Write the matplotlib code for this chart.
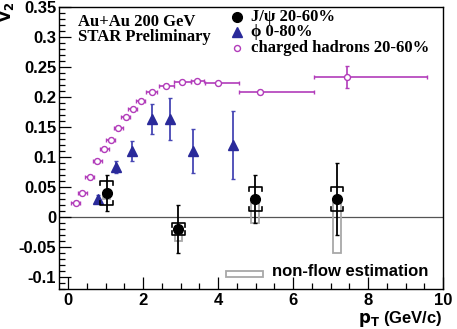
import matplotlib
matplotlib.use("Agg")
import matplotlib.pyplot as plt
from matplotlib.ticker import MultipleLocator
from matplotlib.patches import Rectangle

# ---------------- data ----------------
ch_x = [0.21, 0.38, 0.58, 0.78, 0.96, 1.14, 1.34, 1.54, 1.73, 1.94, 2.23, 2.62, 3.03, 3.43, 3.99, 5.12, 7.45]
ch_v2 = [0.024, 0.040, 0.066, 0.093, 0.113, 0.129, 0.149, 0.166, 0.180, 0.193, 0.208, 0.219, 0.2255, 0.2267, 0.2228, 0.2083, 0.2333]
ch_xlo = [0.12] * 10 + [0.15, 0.2, 0.2, 0.15, 0.33, 0.57, 0.9]
ch_xhi = [0.12] * 10 + [0.15, 0.2, 0.25, 0.2, 0.58, 1.44, 2.11]
ch_yerr = [0.002] * 15 + [0.004, 0.019]

phi_x = [0.81, 1.27, 1.70, 2.23, 2.73, 3.34, 4.40]
phi_v2 = [0.030, 0.084, 0.110, 0.163, 0.163, 0.110, 0.120]
phi_err = [0.006, 0.010, 0.016, 0.025, 0.035, 0.036, 0.056]

jpsi_x = [1.03, 2.94, 4.99, 7.17]
jpsi_v2 = [0.040, -0.020, 0.030, 0.030]
jpsi_stat = [0.030, 0.040, 0.040, 0.060]
jpsi_sys = [0.020, 0.010, 0.020, 0.020]
nonflow_low = [0.030, -0.040, -0.010, -0.060]

legend_labels = ["J/\u03c8 20-60%", "\u03d5 0-80%", "charged hadrons 20-60%"]
x_ticks = [0, 2, 4, 6, 8, 10]
y_ticks = [-0.1, -0.05, 0, 0.05, 0.1, 0.15, 0.2, 0.25, 0.3, 0.35]

# ---------------- style ----------------
W, H = 457, 329
fig = plt.figure(figsize=(W / 100, H / 100), dpi=100)
ax = fig.add_axes([59 / W, 1 - 289 / H, (443 - 59) / W, (289 - 7) / H])
ax.set_xlim(-0.24, 10)
ax.set_ylim(-0.12, 0.35)

purple = "#b23cba"
blue = "#2a2a9a"
blue_bar = "#4646b4"
grey = "#a8a8a8"

sans = ["Liberation Sans", "DejaVu Sans"]
serif = ["Liberation Serif", "DejaVu Serif"]

ax.axhline(0, color="#555555", lw=0.9, zorder=1)

# non-flow boxes
for x, v, lo in zip(jpsi_x, jpsi_v2, nonflow_low):
    ax.add_patch(Rectangle((x - 0.1, lo), 0.2, v - lo, fill=False, ec=grey, lw=1.3, zorder=2))

# charged hadrons
ax.errorbar(ch_x, ch_v2, xerr=[ch_xlo, ch_xhi], yerr=ch_yerr, fmt="o", ms=4.3,
            mfc="white", mec=purple, mew=1.0, ecolor=purple, elinewidth=1.2,
            capsize=1.2, capthick=1.0, zorder=3)

# phi
ax.errorbar(phi_x, phi_v2, yerr=phi_err, fmt="^", ms=7.5, color=blue, mec=blue,
            ecolor=blue_bar, elinewidth=1.3, capsize=1.2, capthick=1.0, zorder=4)

# J/psi systematic brackets
bw, bh = 0.17, 0.0065
for x, v, s in zip(jpsi_x, jpsi_v2, jpsi_sys):
    top, bot = v + s, v - s
    ax.plot([x - bw, x - bw, x + bw, x + bw], [top - bh, top, top, top - bh], color="black", lw=1.2, zorder=5)
    ax.plot([x - bw, x - bw, x + bw, x + bw], [bot + bh, bot, bot, bot + bh], color="black", lw=1.2, zorder=5)

# J/psi
ax.errorbar(jpsi_x, jpsi_v2, yerr=jpsi_stat, fmt="o", ms=7, color="black",
            ecolor="black", elinewidth=1.3, capsize=1.2, capthick=1.0, zorder=6)

# axes style
for sp in ax.spines.values():
    sp.set_linewidth(1.0)
ax.xaxis.set_minor_locator(MultipleLocator(0.5))
ax.yaxis.set_minor_locator(MultipleLocator(0.01))
ax.tick_params(which="both", direction="in", top=False, right=False)
ax.tick_params(which="major", length=8.5, width=0.9)
ax.tick_params(which="minor", length=4.2, width=0.9)
ax.set_xticks(x_ticks)
ax.set_yticks(y_ticks)
ax.set_xticklabels([str(t) for t in x_ticks])
ax.set_yticklabels([("%g" % t) for t in y_ticks])
for lab in ax.get_xticklabels() + ax.get_yticklabels():
    lab.set_fontfamily(sans)
    lab.set_fontweight("bold")
    lab.set_fontsize(12)
ax.tick_params(axis="x", pad=3)
ax.tick_params(axis="y", pad=2)

# axis titles
fig.text(443 / W, 1 - 319 / H, r"$\mathbf{p_{T}}$ (GeV/c)", ha="right", va="center",
         fontsize=12, fontweight="bold", family=sans)
fig.text(8 / W, 1 - 12 / H, r"$\mathbf{v_{2}}$", ha="center", va="center", rotation=90,
         fontsize=12, fontweight="bold", family=sans)

# header text
fig.text(78 / W, 1 - 22 / H, "Au+Au 200 GeV", ha="left", va="center", fontsize=12,
         fontweight="bold", family=serif)
fig.text(78 / W, 1 - 37 / H, "STAR Preliminary", ha="left", va="center", fontsize=12,
         fontweight="bold", family=serif)

# legend (manual)
leg_y = [16.7, 32.3, 47.7]
fig.lines.append(plt.Line2D([236.7 / W], [1 - leg_y[0] / H], marker="o", ms=7, color="black",
                            transform=fig.transFigure, figure=fig))
fig.lines.append(plt.Line2D([236.7 / W], [1 - leg_y[1] / H], marker="^", ms=7.5, color=blue,
                            transform=fig.transFigure, figure=fig))
fig.lines.append(plt.Line2D([236.7 / W], [1 - leg_y[2] / H], marker="o", ms=4.3, mfc="white",
                            mec=purple, mew=1.0, transform=fig.transFigure, figure=fig))
for y, lab in zip(leg_y, legend_labels):
    fig.text(251 / W, 1 - y / H, lab, ha="left", va="center", fontsize=12,
             fontweight="bold", family=serif)

# non-flow legend
fig.patches.append(Rectangle((226 / W, 1 - 277 / H), 37 / W, 6 / H, fill=False, ec=grey,
                             lw=1.3, transform=fig.transFigure, figure=fig))
fig.text(271.5 / W, 1 - 272 / H, "non-flow estimation", ha="left", va="center", fontsize=12,
         fontweight="bold", family=sans)

fig.savefig("out.png", dpi=100)
